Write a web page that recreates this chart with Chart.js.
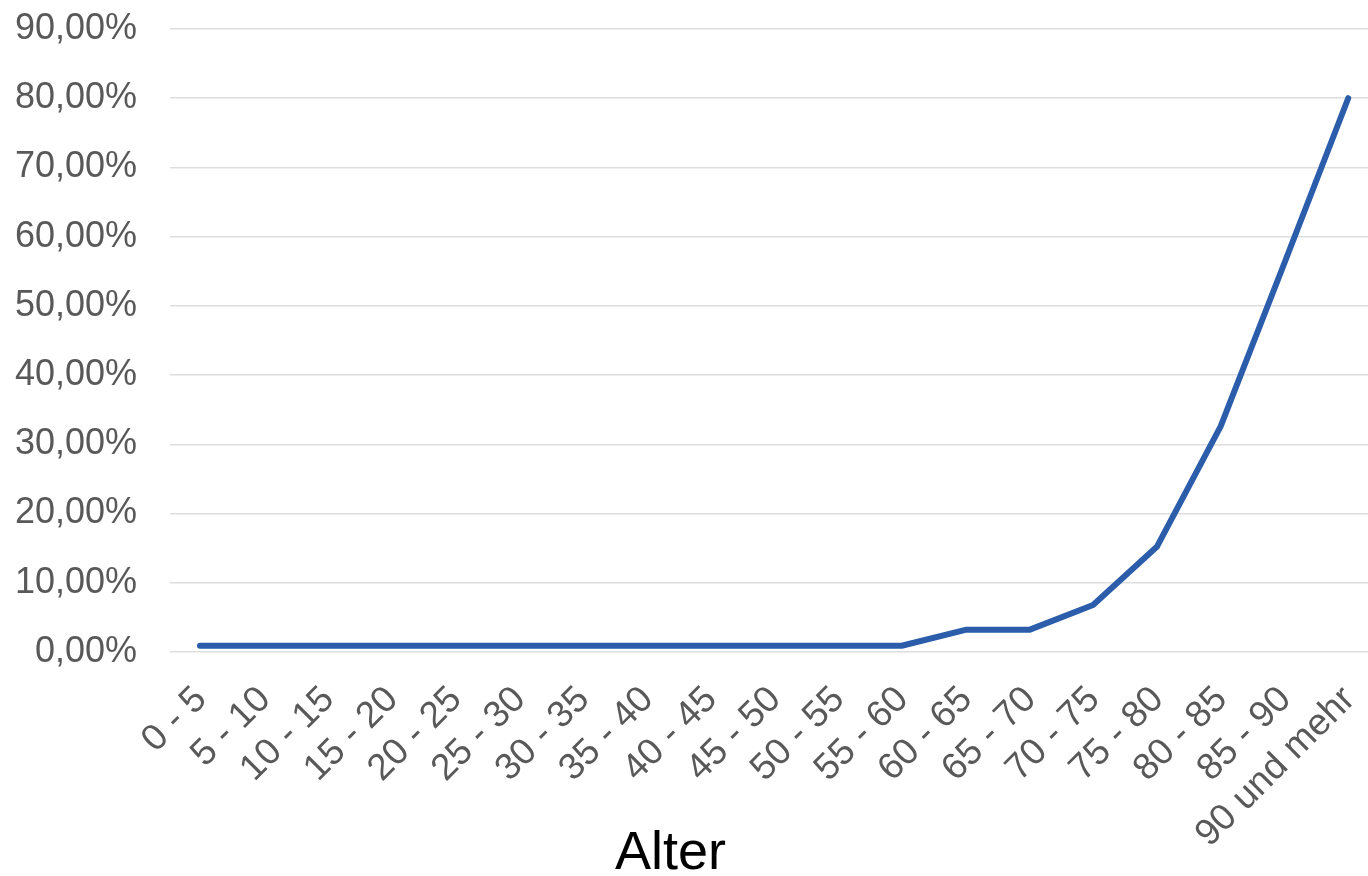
<!DOCTYPE html>
<html lang="de">
<head>
<meta charset="utf-8">
<title>Alter</title>
<script src="https://cdn.jsdelivr.net/npm/chart.js@4.4.0/dist/chart.umd.min.js"></script>
<style>
  html, body { margin: 0; padding: 0; background: #fff; }
  #wrap { position: relative; width: 1368px; height: 876px; }
  #achse {
    position: absolute; left: 615px; top: 823px;
    font: 54px/54px 'Liberation Sans', Arial, sans-serif; color: #000;
  }
</style>
</head>
<body>
<div id="wrap">
  <canvas id="grafico" width="1368" height="876"></canvas>
  <div id="achse">Alter</div>
</div>
<script>
// Altersgruppen und Anteil in %
const altersgruppen = [
  '0 - 5', '5 - 10', '10 - 15', '15 - 20', '20 - 25', '25 - 30', '30 - 35',
  '35 - 40', '40 - 45', '45 - 50', '50 - 55', '55 - 60', '60 - 65', '65 - 70',
  '70 - 75', '75 - 80', '80 - 85', '85 - 90', '90 und mehr'
];
const anteil = [
  0.9, 0.9, 0.9, 0.9, 0.9, 0.9, 0.9, 0.9, 0.9, 0.9, 0.9, 0.9,
  3.2, 3.2, 6.8, 15.2, 32.6, 56.2, 80
];
const yTicks = [0, 10, 20, 30, 40, 50, 60, 70, 80, 90];

const grau = '#595959';
const schrift = "'Liberation Sans', Arial, sans-serif";

// lineare x-Achse, damit links/rechts etwas Luft wie im Original bleibt
const punkte = anteil.map((v, i) => ({ x: i, y: v }));

new Chart(document.getElementById('grafico'), {
  type: 'line',
  data: {
    datasets: [{
      data: punkte,
      borderColor: '#2b5dab',
      borderWidth: 6,
      borderCapStyle: 'round',
      borderJoinStyle: 'round',
      pointRadius: 0,
      tension: 0,
      fill: false
    }]
  },
  options: {
    responsive: false,
    animation: false,
    layout: { padding: { top: 29, left: 0, right: 0, bottom: 0 } },
    plugins: {
      legend: { display: false },
      tooltip: { enabled: false }
    },
    scales: {
      x: {
        type: 'linear',
        min: -0.47,
        max: 18.31,
        afterFit: s => {
          s.height = 224;
          s.paddingLeft = 0;
          s.paddingRight = 0;
        },
        afterBuildTicks: s => {
          s.ticks = altersgruppen.map((_, i) => ({ value: i }));
        },
        grid: { display: false },
        border: { display: false },
        ticks: {
          autoSkip: false,
          maxRotation: 45,
          minRotation: 45,
          padding: 18,
          labelOffset: 1,
          color: grau,
          font: { family: schrift, size: 37 },
          callback: v => altersgruppen[v] ?? ''
        }
      },
      y: {
        min: 0,
        max: 90,
        afterFit: s => {
          s.width = 170;
          s.paddingTop = 0;
          s.paddingBottom = 0;
        },
        afterBuildTicks: s => {
          s.ticks = yTicks.map(v => ({ value: v }));
        },
        grid: { color: '#dedede', lineWidth: 1.5, drawTicks: false },
        border: { display: false },
        ticks: {
          padding: 33,
          color: grau,
          font: { family: schrift, size: 36 },
          callback: v => v.toFixed(2).replace('.', ',') + '%'
        }
      }
    }
  }
});
</script>
</body>
</html>
